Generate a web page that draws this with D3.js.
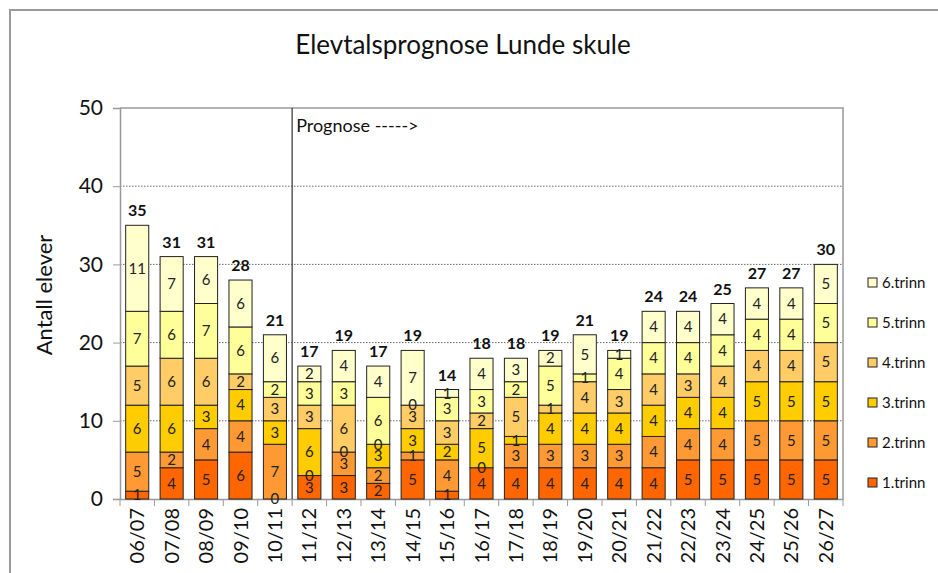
<!DOCTYPE html>
<html><head><meta charset="utf-8">
<script src="https://cdn.jsdelivr.net/npm/d3@7"></script>
<style>body{margin:0;background:#fff}svg{display:block;font-family:Lato,"Open Sans",sans-serif}</style>
</head><body><svg id="c" width="938" height="573"></svg>
<script>
const categories = ["06/07","07/08","08/09","09/10","10/11","11/12","12/13","13/14","14/15","15/16","16/17","17/18","18/19","19/20","20/21","21/22","22/23","23/24","24/25","25/26","26/27"];
const seriesNames = ["1.trinn","2.trinn","3.trinn","4.trinn","5.trinn","6.trinn"];
const trinn1 = [1,4,5,6,0,3,3,2,5,1,4,4,4,4,4,4,5,5,5,5,5];
const trinn2 = [5,2,4,4,7,0,3,2,1,4,0,3,3,3,3,4,4,4,5,5,5];
const trinn3 = [6,6,3,4,3,6,0,3,3,2,5,1,4,4,4,4,4,4,5,5,5];
const trinn4 = [5,6,6,2,3,3,6,0,3,3,2,5,1,4,3,4,3,4,4,4,5];
const trinn5 = [7,6,7,6,2,3,3,6,0,3,3,2,5,1,4,4,4,4,4,4,5];
const trinn6 = [11,7,6,6,6,2,4,4,7,1,4,3,2,5,1,4,4,4,4,4,5];
const colors = ["#FF6600","#FF9933","#FFCC00","#FFCC66","#FFFF99","#FFFFCC"];
const yTicks = [0,10,20,30,40,50];
const title = "Elevtalsprognose Lunde skule";
const yTitle = "Antall elever";
const prognoseLabel = "Prognose ----->";
const prognoseStart = "11/12";

const seriesVals = [trinn1,trinn2,trinn3,trinn4,trinn5,trinn6];
const data = categories.map((c,i)=>{const o={cat:c};seriesNames.forEach((s,j)=>o[s]=seriesVals[j][i]);return o;});
const stack = d3.stack().keys(seriesNames)(data);

const svg = d3.select("#c");
const L=120,R=843,T=108,B=499;
const x = d3.scaleBand().domain(categories).range([L,R]).paddingInner(0.33).paddingOuter(0.165);
const y = d3.scaleLinear().domain([0,50]).range([B,T]);

// outer frame
svg.append("rect").attr("x",10).attr("y",10).attr("width",940).attr("height",600)
  .attr("fill","none").attr("stroke","#9a9a9a").attr("stroke-width",2);

// title
svg.append("text").attr("x",463).attr("y",54).attr("text-anchor","middle")
  .attr("font-size",26).attr("fill","#111").text(title);

// gridlines
svg.append("g").selectAll("line").data(yTicks.filter(t=>t>0&&t<50)).join("line")
  .attr("x1",L).attr("x2",R).attr("y1",d=>y(d)).attr("y2",d=>y(d))
  .attr("stroke","#444").attr("stroke-width",0.8).attr("stroke-dasharray","1.5,1.5");

// plot border top/right
svg.append("path").attr("d",`M${L},${T}H${R}V${B}`).attr("fill","none").attr("stroke","#999").attr("stroke-width",1.5);

// y axis
const ya = svg.append("g").attr("transform",`translate(${L},0)`)
  .call(d3.axisLeft(y).tickValues(yTicks).tickSize(7).tickPadding(10));
ya.select(".domain").attr("stroke","#999").attr("stroke-width",1.5);
ya.selectAll(".tick line").attr("stroke","#999");
ya.selectAll("text").attr("font-size",21).attr("fill","#111").attr("font-family","Lato,'Open Sans',sans-serif");

// x axis
const xa = svg.append("g").attr("transform",`translate(0,${B})`)
  .call(d3.axisBottom(x).tickSize(0).tickPadding(0));
xa.select(".domain").attr("stroke","#999").attr("stroke-width",1.5);
xa.selectAll(".tick text").attr("font-size",20).attr("fill","#111").attr("font-family","Lato,'Open Sans',sans-serif")
  .attr("transform","rotate(-90)").attr("text-anchor","end").attr("dy","0.35em").attr("x",-9).attr("y",0);
// tick marks between categories
const step = x.step();
const bounds = categories.map((c,i)=>x(c)-x.paddingInner()*step/2).concat([R]);
svg.append("g").selectAll("line").data(bounds).join("line")
  .attr("x1",d=>d).attr("x2",d=>d).attr("y1",B).attr("y2",B+7).attr("stroke","#999");

// bars
const g = svg.append("g");
stack.forEach((s,si)=>{
  g.append("g").selectAll("rect").data(s).join("rect")
    .attr("x",d=>x(d.data.cat)).attr("width",x.bandwidth())
    .attr("y",d=>y(d[1])).attr("height",d=>y(d[0])-y(d[1]))
    .attr("fill",colors[si]).attr("stroke","#222").attr("stroke-width",1);
});
// segment labels
stack.forEach((s,si)=>{
  g.append("g").selectAll("text").data(s).join("text")
    .attr("x",d=>x(d.data.cat)+x.bandwidth()/2).attr("y",d=>y((d[0]+d[1])/2))
    .attr("dy","0.35em").attr("text-anchor","middle").attr("font-size",15).attr("fill","#222")
    .text(d=>d[1]-d[0]);
});
// totals
const totals = categories.map((c,i)=>d3.sum(seriesVals,v=>v[i]));
g.append("g").selectAll("text").data(categories).join("text")
  .attr("x",d=>x(d)+x.bandwidth()/2).attr("y",(d,i)=>y(totals[i])-9)
  .attr("text-anchor","middle").attr("font-size",16).attr("font-weight","bold").attr("fill","#111")
  .text((d,i)=>totals[i]);

// prognose line
const px = x(prognoseStart)-x.paddingInner()*step/2;
svg.append("line").attr("x1",px).attr("x2",px).attr("y1",T).attr("y2",B).attr("stroke","#333").attr("stroke-width",1.2);
svg.append("text").attr("x",px+4).attr("y",132).attr("font-size",18).attr("fill","#111").text(prognoseLabel);

// y title
svg.append("text").attr("transform","translate(52,295) rotate(-90)").attr("text-anchor","middle")
  .attr("font-size",22).attr("fill","#111").text(yTitle);

// legend
const leg = svg.append("g");
const order = seriesNames.slice().reverse();
order.forEach((s,i)=>{
  const yy = 283 + i*40;
  const si = seriesNames.indexOf(s);
  leg.append("rect").attr("x",868).attr("y",yy-5).attr("width",9).attr("height",9)
    .attr("fill",colors[si]).attr("stroke","#222").attr("stroke-width",1);
  leg.append("text").attr("x",882).attr("y",yy).attr("dy","0.35em").attr("font-size",15).attr("fill","#111").text(s);
});
</script></body></html>
